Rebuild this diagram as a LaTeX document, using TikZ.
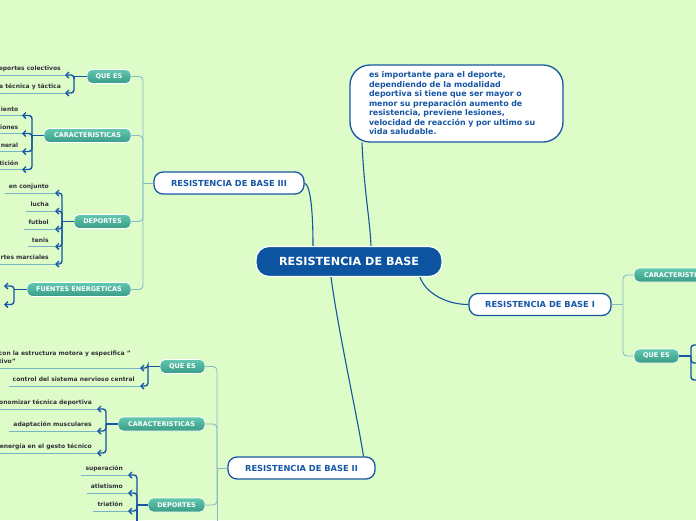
\documentclass[tikz,border=0pt]{standalone}
\usepackage{fontspec}
\setmainfont{DejaVu Sans}
\usetikzlibrary{arrows.meta,calc}
\definecolor{bg}{RGB}{221,252,200}
\definecolor{dblue}{RGB}{22,86,164}
\definecolor{cfill}{RGB}{12,84,160}
\definecolor{tealA}{RGB}{98,200,176}
\definecolor{tealB}{RGB}{58,156,134}
\definecolor{lconn}{RGB}{135,185,200}
\definecolor{ulcol}{RGB}{120,180,200}
\definecolor{leaftext}{RGB}{50,50,58}
\newcommand{\leafitem}[6][6]{%
  \node[leaftxt, anchor=base east] (#2) at (#3-#1, #4-4.5) {#5};
  \coordinate (#2t) at (#3,#4);
  \draw[ulinest] ($(#2.west |- #2t)+(-4,0)$) -- (#2t);
  \draw[tipped] (#6) |- (#2t);
}
\begin{document}
\begin{tikzpicture}[x=1pt,y=-1pt,
 centralbox/.style={draw=white, line width=1.2pt, fill=cfill, rounded corners=13pt, minimum width=186pt, minimum height=30pt, inner sep=0pt, text=white, font=\fontsize{11.2}{13}\selectfont\bfseries},
 branchbox/.style={draw=dblue, line width=1.3pt, fill=white, rounded corners=9pt, minimum height=22pt, inner sep=0pt, text=dblue, font=\fontsize{8.3}{10}\selectfont\bfseries},
 subbox/.style={draw=white, line width=0.8pt, top color=tealA, bottom color=tealB, rounded corners=5pt, minimum height=14pt, inner sep=0pt, text=white, font=\fontsize{6.5}{8}\selectfont\bfseries},
 leaftxt/.style={text=leaftext, inner sep=0pt, font=\fontsize{6}{8}\selectfont\bfseries},
 mainconn/.style={draw=dblue, line width=1.1pt},
 subconn/.style={draw=lconn, line width=0.9pt, rounded corners=4pt},
 bracketln/.style={draw=dblue, line width=1.4pt, rounded corners=3pt},
 tipped/.style={bracketln, -{Straight Barb[length=3pt,width=6pt]}},
 ulinest/.style={draw=ulcol, line width=0.9pt},
]
\useasboundingbox (0,0) rectangle (696,520);
\clip (0,0) rectangle (696,520);
\fill[bg] (0,0) rectangle (696,520);

% central and main branches
\node[centralbox] (cen) at (349,261.5) {RESISTENCIA DE BASE};
\node[branchbox, minimum width=150pt] (r3) at (229,183) {RESISTENCIA DE BASE III};
\node[branchbox, minimum width=142pt] (r1) at (540,304.5) {RESISTENCIA DE BASE I};
\node[branchbox, minimum width=147pt] (r2) at (301.5,468) {RESISTENCIA DE BASE II};
\node[draw=dblue, line width=1.3pt, fill=white, rounded corners=20pt, minimum width=213pt, minimum height=77pt, text width=175pt, align=left, text=dblue, font=\fontsize{7.9}{9.5}\selectfont\bfseries, inner sep=0pt] (tb) at (456.5,103.5)
 {es importante para el deporte,\\dependiendo de la modalidad\\deportiva si tiene que ser mayor o\\menor su preparación aumento de\\resistencia, previene lesiones,\\velocidad de reacción y por ultimo su\\vida saludable.};

\draw[mainconn] (r3.east) .. controls (311,186) and (313,215) .. ([xshift=-36pt]cen.north);
\draw[mainconn] ([xshift=-94.5pt]tb.south) .. controls (364,190) and (370,220) .. ([xshift=22pt]cen.north);
\draw[mainconn] ([xshift=71pt]cen.south) .. controls (425,292) and (445,304.5) .. (r1.west);
\draw[mainconn] ([xshift=-18pt]cen.south) .. controls (338,330) and (358,420) .. ([xshift=62pt]r2.north);

% ---- RESISTENCIA DE BASE III ----
\node[subbox, minimum width=44pt] (q3) at (109,76.5) {QUE ES};
\node[subbox, minimum width=87pt] (c3) at (87.5,135.5) {CARACTERISTICAS};
\node[subbox, minimum width=57pt] (d3) at (102.5,221.5) {DEPORTES};
\node[subbox, minimum width=104pt] (f3) at (79,289.5) {FUENTES ENERGETICAS};
\coordinate (v3) at (143,183);
\draw[subconn] (r3.west) -- (v3);
\draw[subconn] (v3) |- (q3.east);
\draw[subconn] (v3) |- (c3.east);
\draw[subconn] (v3) |- (d3.east);
\draw[subconn] (v3) |- (f3.east);

\coordinate (bq3) at (74,76.5);
\draw[bracketln] (q3.west) -- (bq3);
\leafitem[4]{q3a}{65}{75}{eportes colectivos}{bq3}
\leafitem[4]{q3b}{65}{93}{a técnica y táctica}{bq3}

\coordinate (bc3) at (32,135.5);
\draw[bracketln] (c3.west) -- (bc3);
\leafitem[3.5]{c3a}{22}{115.5}{iento}{bc3}
\leafitem[3.5]{c3b}{22}{133.5}{iones}{bc3}
\leafitem[3.5]{c3c}{22}{151.5}{neral}{bc3}
\leafitem[3.5]{c3d}{22}{169.5}{tición}{bc3}

\coordinate (bd3) at (62,221.5);
\draw[bracketln] (d3.west) -- (bd3);
\leafitem{d3a}{55}{193}{en conjunto}{bd3}
\leafitem{d3b}{55}{211}{lucha}{bd3}
\leafitem{d3c}{55}{229}{futbol}{bd3}
\leafitem{d3d}{55}{246.5}{tenis}{bd3}
\leafitem{d3e}{55}{264}{rtes marciales}{bd3}

\coordinate (bf3) at (14,289.5);
\draw[bracketln] (f3.west) -- (bf3);
\coordinate (f3a) at (4,286);
\coordinate (f3b) at (4,304.5);
\draw[tipped] (bf3) |- (f3a);
\draw[tipped] (bf3) |- (f3b);

% ---- RESISTENCIA DE BASE I ----
\node[subbox, minimum width=87pt] (c1) at (677.5,275) {CARACTERISTICAS};
\node[subbox, minimum width=45pt] (q1) at (656.5,356) {QUE ES};
\coordinate (v1) at (623,304.5);
\draw[subconn] (r1.east) -- (v1);
\draw[subconn] (v1) |- (c1.west);
\draw[subconn] (v1) |- (q1.west);
\coordinate (bq1) at (691,356);
\coordinate (q1a) at (712,345);
\coordinate (q1b) at (712,363);
\coordinate (q1c) at (712,380);
\draw[bracketln] (q1.east) -- (bq1);
\draw[bracketln] (bq1) |- (q1a);
\draw[bracketln] (bq1) |- (q1b);
\draw[bracketln] (bq1) |- (q1c);

% ---- RESISTENCIA DE BASE II ----
\node[subbox, minimum width=45pt] (q2) at (182.5,366.5) {QUE ES};
\node[subbox, minimum width=87pt] (c2) at (161.5,424) {CARACTERISTICAS};
\node[subbox, minimum width=57pt] (d2) at (176.5,505) {DEPORTES};
\coordinate (v2) at (217,468);
\coordinate (v2end) at (217,530);
\draw[subconn] (r2.west) -- (v2);
\draw[subconn] (v2) |- (q2.east);
\draw[subconn] (v2) |- (c2.east);
\draw[subconn] (v2) |- (d2.east);
\draw[subconn] (v2) -- (v2end);

\coordinate (bq2) at (148,366.5);
\draw[bracketln] (q2.west) -- (bq2);
\node[leaftxt, align=left, anchor=south east] (q2a) at (131,364) {con la estructura motora y especifica "\\tivo"};
\coordinate (q2at) at (140,368);
\draw[ulinest] ($(q2a.south west |- q2at)+(-4,0)$) -- (q2at);
\draw[tipped] (bq2) |- (q2at);
\leafitem[5]{q2b}{140}{386}{control del sistema nervioso central}{bq2}

\coordinate (bc2) at (106,424);
\draw[bracketln] (c2.west) -- (bc2);
\leafitem[5]{c2a}{97}{409}{onomizar técnica deportiva}{bc2}
\leafitem[5]{c2b}{97}{431}{adaptación musculares}{bc2}
\leafitem[5]{c2c}{97}{453}{energía en el gesto técnico}{bc2}

\coordinate (bd2) at (137,505);
\coordinate (bd2end) at (137,530);
\draw[bracketln] (d2.west) -- (bd2);
\leafitem[5]{d2a}{128}{475}{superación}{bd2}
\leafitem[5]{d2b}{128}{493}{atletismo}{bd2}
\leafitem[5]{d2c}{128}{511}{triatlón}{bd2}
\draw[bracketln] (bd2) -- (bd2end);
\end{tikzpicture}
\end{document}
